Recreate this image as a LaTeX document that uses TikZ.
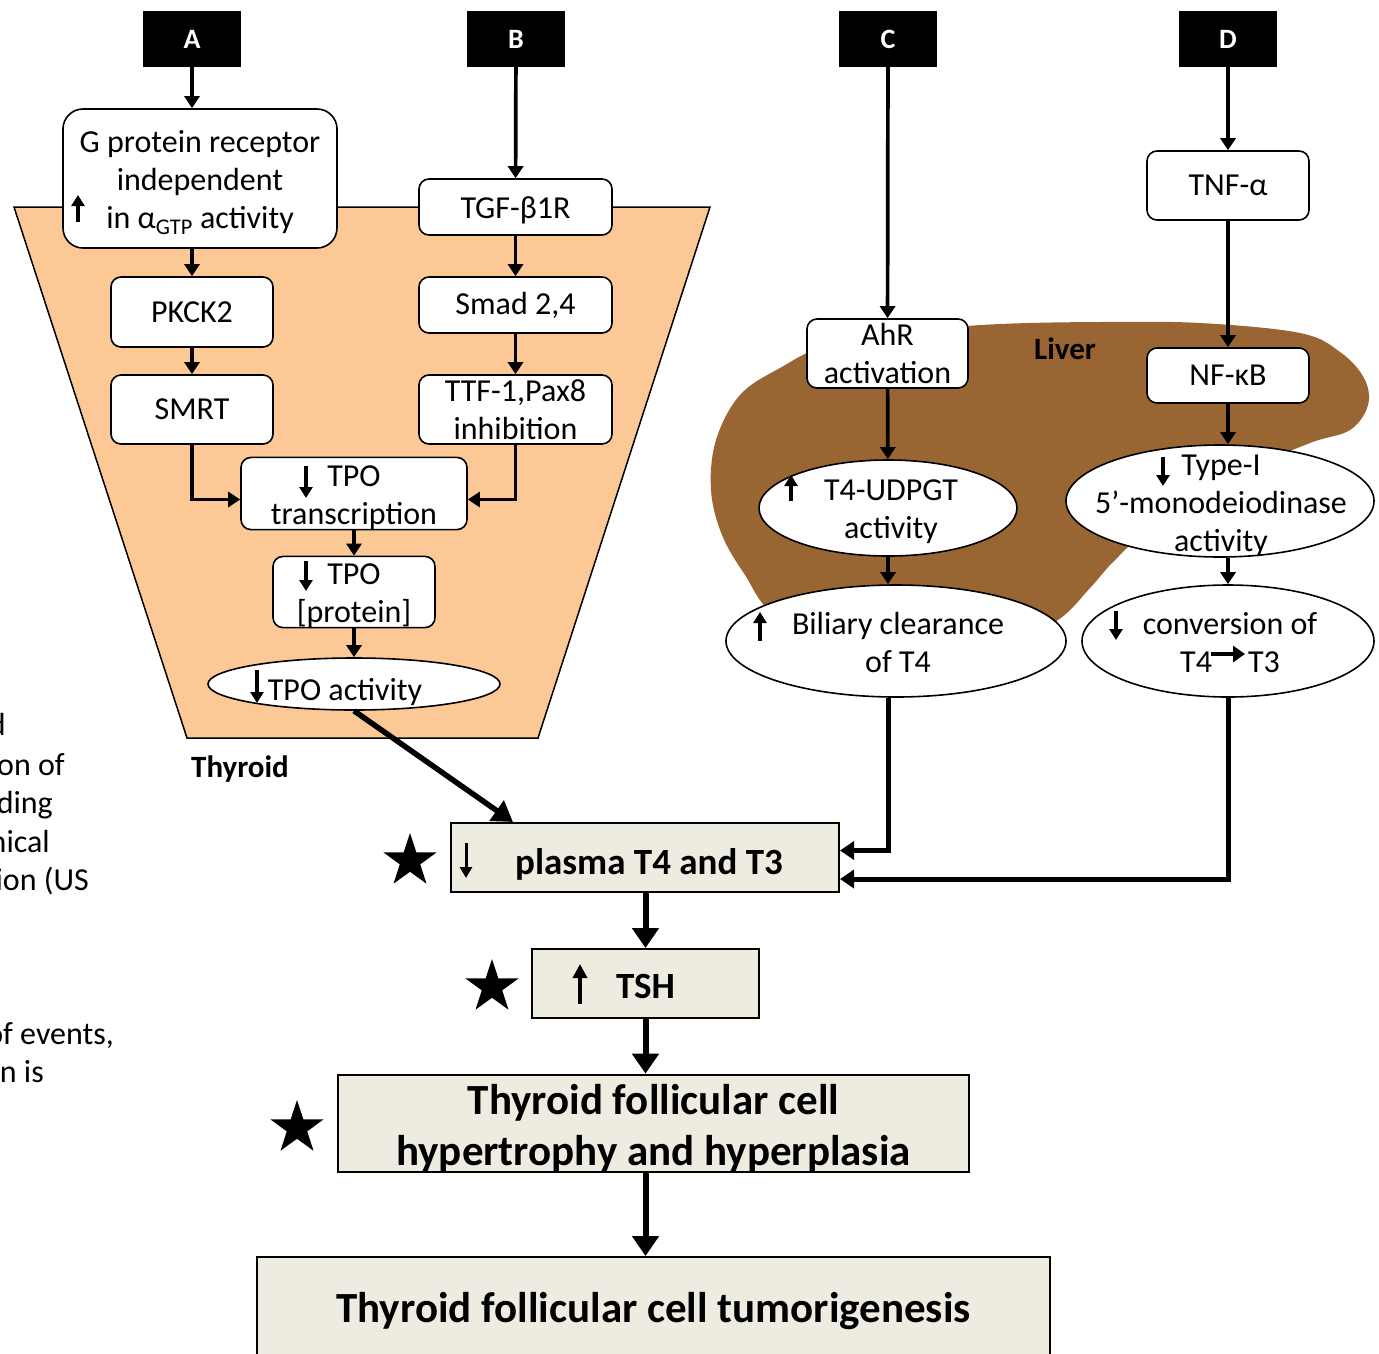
\documentclass[tikz,border=0pt]{standalone}
\usepackage{fontspec}
\setmainfont{Carlito}
\usetikzlibrary{arrows.meta,shapes.geometric}
\definecolor{peach}{RGB}{252,201,150}
\definecolor{liverbrown}{RGB}{153,102,51}
\definecolor{tanbox}{RGB}{238,236,225}
\newcommand\lowr[1]{\rule{0pt}{#1}}
\begin{document}
\begin{tikzpicture}[x=1pt,y=-1pt,
  txt/.style={font=\fontsize{32}{38}\selectfont},
  rbox/.style={txt,draw,line width=1.6pt,rounded corners=10pt,fill=white,align=center,inner sep=0pt},
  oval/.style={draw,line width=1.6pt,ellipse,fill=white,inner sep=0pt},
  lab/.style={fill=black,text=white,font=\fontsize{28}{32}\selectfont\bfseries,minimum width=98pt,minimum height=56pt,inner sep=0pt},
  tbox/.style={draw,line width=2pt,fill=tanbox,align=center,inner sep=0pt,font=\fontsize{37}{44}\selectfont\bfseries},
  conn/.style={line width=3.7pt,-{Triangle[length=12pt,width=15pt]}},
  midconn/.style={line width=5pt,-{Triangle[length=14pt,width=18pt]}},
  thickconn/.style={line width=6pt,-{Triangle[length=20pt,width=26pt]}},
  mini/.style={line width=3.2pt,-{Triangle[length=11pt,width=13pt]}},
  starmark/.style={star,star points=5,star point ratio=2.6,fill=black,minimum size=56pt,inner sep=0pt},
  frag/.style={txt,anchor=mid east,inner sep=0pt},
]
\useasboundingbox (0,0) rectangle (1379,1353);

% background shapes
\draw[fill=peach,line width=1.5pt] (14,207) -- (710,207) -- (538,738) -- (187,738) -- cycle;
\fill[liverbrown] plot[smooth cycle,tension=0.6] coordinates{
 (830,345) (780,368) (740,395) (716,440) (711,490) (722,535) (745,575) (775,615)
 (850,650) (1000,650) (1058,620) (1090,588) (1115,560) (1150,530) (1250,470)
 (1310,443) (1350,430) (1368,405) (1364,378) (1340,352) (1300,333) (1200,323)
 (1100,322) (1000,324) (930,330)};

\node[font=\fontsize{31}{36}\selectfont\bfseries] (thylab) at (240,769) {Thyroid};
\node[font=\fontsize{31}{36}\selectfont\bfseries] (livlab) at (1065,349) {Liver};

% left text fragments (cut off at the edge, as in the reference)
\node[frag] (f1) at (6,733) {d};
\node[frag] (f2) at (65,773) {on of};
\node[frag] (f3) at (53,811) {ding};
\node[frag] (f4) at (50,850) {nical};
\node[frag] (f5) at (89,888) {ion (US};
\node[frag] (f6) at (114,1042) {of events,};
\node[frag] (f7) at (44,1080) {n is};

% labels
\node[lab] (A) at (192,39) {A};
\node[lab] (B) at (516,39) {B};
\node[lab] (C) at (888,39) {C};
\node[lab] (D) at (1228,39) {D};

% pathway A
\node[rbox,rounded corners=20pt,minimum width=274pt,minimum height=139pt] (G) at (200,178.5)
  {\lowr{30pt}G protein receptor\\independent\\in α\textsubscript{GTP} activity};
\node[rbox,minimum width=162pt,minimum height=70pt] (PK) at (192,312) {PKCK2};
\node[rbox,minimum width=162pt,minimum height=69pt] (SM) at (192,409.5) {SMRT};

% pathway B
\node[rbox,minimum width=193pt,minimum height=56pt] (TGF) at (515.5,207) {\lowr{29pt}TGF-β1R};
\node[rbox,minimum width=193pt,minimum height=56pt] (SMAD) at (515.5,305) {Smad 2,4};
\node[rbox,minimum width=193pt,minimum height=69pt] (TTF) at (515.5,409.5) {TTF-1,Pax8\\inhibition};

% TPO
\node[rbox,minimum width=226pt,minimum height=69pt] (TPOt) at (354,493.5) {\lowr{29pt}TPO\\transcription};
\node[rbox,minimum width=162pt,minimum height=70pt] (TPOp) at (354,592) {\lowr{28pt}TPO\\{[}protein{]}};
\node[oval,minimum width=292pt,minimum height=52pt] (TPOa) at (354,684) {};
\node[txt] (TPOatxt) at (345,692) {TPO activity};

% pathway C
\node[rbox,minimum width=161pt,minimum height=69pt] (AhR) at (887.5,353.5) {AhR\\activation};
\node[oval,minimum width=258pt,minimum height=96pt] (T4U) at (888,508) {};
\node[txt,align=center] (T4Utxt) at (891,512) {T4-UDPGT\\activity};
\node[oval,minimum width=340pt,minimum height=112pt] (Bil) at (896,641) {};
\node[txt,align=center] (Biltxt) at (898,642) {Biliary clearance\\of T4};

% pathway D
\node[rbox,minimum width=162pt,minimum height=69pt] (TNF) at (1228,185.5) {TNF-α};
\node[rbox,minimum width=162pt,minimum height=55pt] (NF) at (1228,375.5) {NF-κB};
\node[oval,minimum width=308pt,minimum height=112pt] (TI) at (1220,501) {};
\node[txt,align=center] (TItxt) at (1221,505.5) {Type-I\\5’-monodeiodinase\\activity};
\node[oval,minimum width=292pt,minimum height=112pt] (CV) at (1228,641) {};
\node[txt,align=center] (CVtxt) at (1230,642.5) {conversion of\\T4\hspace{36pt}T3};

% bottom boxes
\node[tbox,minimum width=388pt,minimum height=69pt] (PL) at (645,857.5) {\lowr{40pt}\hspace{8pt}plasma T4 and T3};
\node[tbox,minimum width=227pt,minimum height=69pt] (TSH) at (645.5,983.5) {\lowr{30pt}TSH};
\node[tbox,font=\fontsize{43}{51}\selectfont\bfseries,minimum width=631pt,minimum height=97pt] (TFC) at (653.5,1123.5)
  {\lowr{40pt}Thyroid follicular cell\\hypertrophy and hyperplasia};
\node[tbox,font=\fontsize{43}{51}\selectfont\bfseries,minimum width=793pt,minimum height=108pt] (TUM) at (653.5,1311)
  {Thyroid follicular cell tumorigenesis};

% stars
\node[starmark] (s1) at (410,861) {};
\node[starmark] (s2) at (492,987) {};
\node[starmark] (s3) at (297,1128) {};

% small in-text arrows
\draw[mini] (78,222) -- (78,195);
\draw[mini] (306,466) -- (306,498);
\draw[mini] (306,561) -- (306,591);
\draw[mini] (257,670) -- (257,703);
\draw[mini] (791,501) -- (791,475);
\draw[mini] (760,641) -- (760,612);
\draw[mini] (1163,457) -- (1163,486);
\draw[mini] (1116,611) -- (1116,640);
\draw[line width=4pt,-{Triangle[length=12pt,width=16pt]}] (1211,654) -- (1245,654);
\draw[line width=3pt,-{Triangle[length=11pt,width=12pt]}] (466,843) -- (466,878);
\draw[line width=3.4pt,-{Triangle[length=14pt,width=14pt]}] (580,1004) -- (580,964);

% connectors pathway A
\draw[conn] (A.south -| PK.north) -- (PK.north |- G.north);
\draw[conn] (PK.north |- G.south) -- (PK.north);
\draw[conn] (PK) -- (SM);
\draw[conn] (SM.south) |- ([yshift=-6pt]TPOt.west);
% pathway B
\draw[conn] (B) -- (TGF);
\draw[conn] (TGF) -- (SMAD);
\draw[conn] (SMAD) -- (TTF);
\draw[conn] (TTF.south) |- ([yshift=-6pt]TPOt.east);
\draw[conn] (TPOt) -- (TPOp);
\draw[conn] (TPOp) -- (TPOa);
\draw[line width=5.5pt,-{Triangle[length=20pt,width=24pt]}] (TPOa.south) -- ([xshift=63pt]PL.north west);
% pathway C
\draw[conn] (C) -- (AhR);
\draw[conn] (AhR) -- (T4U);
\draw[conn] (T4U.south) -- (T4U.south |- Bil.north);
\draw[midconn] (T4U.south |- Bil.south) |- ([yshift=7pt]PL.east);
% pathway D
\draw[conn] (D) -- (TNF);
\draw[conn] (TNF) -- (NF);
\draw[conn] (NF.south) -- (NF.south |- TI.north);
\draw[conn] (NF.south |- TI.south) -- (CV.north);
\draw[midconn] (CV.south) |- ([yshift=-21.5pt]PL.east);
% bottom
\draw[thickconn] (PL.south -| TSH.north) -- (TSH.north);
\draw[thickconn] (TSH.south) -- (TSH.south |- TFC.north);
\draw[thickconn] (TSH.south |- TFC.south) -- (TSH.south |- TUM.north);
\end{tikzpicture}
\end{document}
